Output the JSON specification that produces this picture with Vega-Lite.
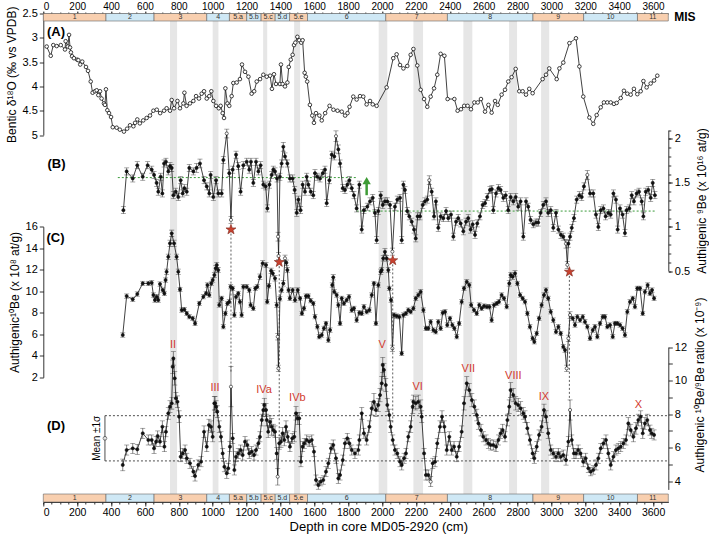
{
"$schema": "https://vega.github.io/schema/vega-lite/v6.json",
"width": 625, "height": 488.5,
"autosize": {"type": "none"},
"padding": {"left": 43.3, "top": 13.5, "right": 40.7, "bottom": 35},
"background": "white",
"config": {"font": "Liberation Sans", "view": {"stroke": null},
  "axis": {"grid": false, "domainColor": "#000", "tickColor": "#000", "labelColor": "#000", "titleColor": "#000", "labelFontSize": 11, "titleFontSize": 12, "titleFontWeight": "normal", "tickSize": 4, "domainWidth": 0.8, "tickWidth": 0.8, "labelPadding": 2}},
"datasets": {
"bands": [{"s":748,"e":790},{"s":1000,"e":1034},{"s":1298,"e":1322},{"s":1481,"e":1516},{"s":1980,"e":2031},{"s":2185,"e":2242},{"s":2480,"e":2533},{"s":2750,"e":2797},{"s":2939,"e":2987}],
"mis": [{"n":"1","s":0,"e":370,"m":185,"k":"i"},{"n":"2","s":370,"e":654,"m":512,"k":"g"},{"n":"3","s":654,"e":965,"m":810,"k":"i"},{"n":"4","s":965,"e":1099,"m":1032,"k":"g"},{"n":"5.a","s":1099,"e":1201,"m":1150,"k":"i"},{"n":"5.b","s":1201,"e":1286,"m":1243,"k":"g"},{"n":"5.c","s":1286,"e":1369,"m":1327,"k":"i"},{"n":"5.d","s":1369,"e":1454,"m":1411,"k":"g"},{"n":"5.e","s":1454,"e":1560,"m":1507,"k":"i"},{"n":"6","s":1560,"e":2022,"m":1791,"k":"g"},{"n":"7","s":2022,"e":2386,"m":2204,"k":"i"},{"n":"8","s":2386,"e":2891,"m":2638,"k":"g"},{"n":"9","s":2891,"e":3190,"m":3040,"k":"i"},{"n":"10","s":3190,"e":3508,"m":3349,"k":"g"},{"n":"11","s":3508,"e":3690,"m":3599,"k":"i"}],
"A": [{"d":20,"v":3.18},{"d":44,"v":3.37},{"d":59,"v":3.15},{"d":79,"v":3.17},{"d":103,"v":3.15},{"d":128,"v":3.24},{"d":132,"v":3.07},{"d":145,"v":3.18},{"d":152,"v":2.94},{"d":158,"v":3.2},{"d":163,"v":3.3},{"d":170,"v":3.38},{"d":181,"v":3.42},{"d":200,"v":3.45},{"d":207,"v":3.46},{"d":218,"v":3.55},{"d":230,"v":3.49},{"d":252,"v":3.6},{"d":264,"v":3.68},{"d":280,"v":3.9},{"d":291,"v":4.13},{"d":305,"v":4.1},{"d":315,"v":4.08},{"d":325,"v":4.18},{"d":335,"v":4.1},{"d":344,"v":4.25},{"d":358,"v":4.35},{"d":364,"v":4.38},{"d":370,"v":4.06},{"d":378,"v":4.49},{"d":388,"v":4.55},{"d":400,"v":4.63},{"d":410,"v":4.84},{"d":433,"v":4.85},{"d":452,"v":4.89},{"d":476,"v":4.93},{"d":495,"v":4.87},{"d":512,"v":4.8},{"d":532,"v":4.82},{"d":542,"v":4.75},{"d":555,"v":4.68},{"d":570,"v":4.76},{"d":590,"v":4.7},{"d":610,"v":4.65},{"d":630,"v":4.6},{"d":650,"v":4.5},{"d":670,"v":4.48},{"d":690,"v":4.55},{"d":713,"v":4.5},{"d":728,"v":4.45},{"d":748,"v":4.5},{"d":758,"v":4.28},{"d":772,"v":4.45},{"d":792,"v":4.3},{"d":807,"v":4.45},{"d":827,"v":4.35},{"d":833,"v":4.13},{"d":846,"v":4.4},{"d":866,"v":4.35},{"d":886,"v":4.3},{"d":902,"v":4.2},{"d":919,"v":4.25},{"d":935,"v":4.15},{"d":949,"v":4.1},{"d":965,"v":4.25},{"d":980,"v":4.2},{"d":992,"v":4.1},{"d":1004,"v":4.3},{"d":1020,"v":4.4},{"d":1036,"v":4.45},{"d":1047,"v":4.4},{"d":1059,"v":4.55},{"d":1067,"v":4.65},{"d":1075,"v":4.04},{"d":1087,"v":4.35},{"d":1098,"v":4.4},{"d":1112,"v":4.2},{"d":1122,"v":3.93},{"d":1142,"v":3.92},{"d":1161,"v":3.85},{"d":1173,"v":3.55},{"d":1191,"v":3.7},{"d":1211,"v":3.8},{"d":1230,"v":4.15},{"d":1245,"v":4.1},{"d":1260,"v":3.9},{"d":1280,"v":3.85},{"d":1299,"v":3.76},{"d":1319,"v":3.8},{"d":1339,"v":3.78},{"d":1350,"v":4.05},{"d":1362,"v":3.75},{"d":1374,"v":3.95},{"d":1397,"v":3.95},{"d":1403,"v":3.55},{"d":1413,"v":3.95},{"d":1427,"v":4.0},{"d":1441,"v":3.92},{"d":1449,"v":3.6},{"d":1461,"v":3.45},{"d":1472,"v":3.35},{"d":1480,"v":3.15},{"d":1488,"v":3.1},{"d":1500,"v":2.98},{"d":1511,"v":3.05},{"d":1523,"v":3.1},{"d":1531,"v":3.05},{"d":1543,"v":3.72},{"d":1550,"v":3.8},{"d":1558,"v":3.9},{"d":1574,"v":4.38},{"d":1588,"v":4.6},{"d":1598,"v":4.75},{"d":1610,"v":4.55},{"d":1630,"v":4.6},{"d":1644,"v":4.7},{"d":1664,"v":4.55},{"d":1690,"v":4.4},{"d":1713,"v":4.48},{"d":1737,"v":4.5},{"d":1762,"v":4.52},{"d":1782,"v":4.6},{"d":1796,"v":4.55},{"d":1808,"v":4.42},{"d":1830,"v":4.21},{"d":1850,"v":4.27},{"d":1870,"v":4.2},{"d":1889,"v":4.21},{"d":1909,"v":4.37},{"d":1929,"v":4.3},{"d":1945,"v":4.37},{"d":1968,"v":4.4},{"d":2027,"v":4.02},{"d":2066,"v":3.42},{"d":2086,"v":3.34},{"d":2106,"v":3.56},{"d":2126,"v":3.63},{"d":2149,"v":3.58},{"d":2169,"v":3.35},{"d":2185,"v":3.23},{"d":2208,"v":3.57},{"d":2228,"v":4.07},{"d":2248,"v":4.26},{"d":2267,"v":4.42},{"d":2287,"v":4.21},{"d":2307,"v":4.04},{"d":2326,"v":3.76},{"d":2346,"v":3.33},{"d":2368,"v":3.37},{"d":2387,"v":4.26},{"d":2427,"v":4.26},{"d":2446,"v":4.5},{"d":2466,"v":4.47},{"d":2485,"v":4.4},{"d":2505,"v":4.4},{"d":2525,"v":4.47},{"d":2545,"v":4.33},{"d":2565,"v":4.33},{"d":2584,"v":4.26},{"d":2608,"v":4.52},{"d":2628,"v":4.38},{"d":2647,"v":4.54},{"d":2667,"v":4.3},{"d":2683,"v":4.38},{"d":2706,"v":4.17},{"d":2726,"v":4.07},{"d":2745,"v":3.9},{"d":2765,"v":3.81},{"d":2789,"v":3.64},{"d":2810,"v":4.1},{"d":2830,"v":4.1},{"d":2850,"v":4.17},{"d":2869,"v":4.05},{"d":2889,"v":4.14},{"d":2948,"v":3.85},{"d":2968,"v":3.76},{"d":2987,"v":3.63},{"d":3031,"v":3.85},{"d":3047,"v":3.63},{"d":3070,"v":3.51},{"d":3106,"v":3.11},{"d":3145,"v":3.01},{"d":3165,"v":3.59},{"d":3188,"v":4.21},{"d":3224,"v":4.64},{"d":3247,"v":4.77},{"d":3267,"v":4.59},{"d":3291,"v":4.43},{"d":3310,"v":4.33},{"d":3330,"v":4.33},{"d":3350,"v":4.33},{"d":3369,"v":4.36},{"d":3385,"v":4.34},{"d":3409,"v":4.24},{"d":3428,"v":4.09},{"d":3448,"v":4.15},{"d":3468,"v":4.17},{"d":3487,"v":4.05},{"d":3507,"v":4.16},{"d":3527,"v":4.1},{"d":3543,"v":3.89},{"d":3562,"v":4.02},{"d":3586,"v":3.94},{"d":3606,"v":3.88},{"d":3625,"v":3.78}],
"B": [{"d":473,"v":1.19,"e":0.04},{"d":492,"v":1.63,"e":0.04},{"d":528,"v":1.55,"e":0.04},{"d":555,"v":1.7,"e":0.04},{"d":587,"v":1.57,"e":0.04},{"d":616,"v":1.7,"e":0.04},{"d":640,"v":1.65,"e":0.04},{"d":654,"v":1.59,"e":0.04},{"d":669,"v":1.5,"e":0.04},{"d":679,"v":1.4,"e":0.04},{"d":693,"v":1.57,"e":0.04},{"d":703,"v":1.38,"e":0.04},{"d":713,"v":1.72,"e":0.04},{"d":724,"v":1.74,"e":0.04},{"d":738,"v":1.63,"e":0.04},{"d":748,"v":1.69,"e":0.04},{"d":758,"v":1.67,"e":0.04},{"d":768,"v":1.36,"e":0.04},{"d":782,"v":1.4,"e":0.04},{"d":797,"v":1.34,"e":0.04},{"d":811,"v":1.53,"e":0.04},{"d":823,"v":1.38,"e":0.04},{"d":833,"v":1.44,"e":0.04},{"d":847,"v":1.4,"e":0.04},{"d":862,"v":1.67,"e":0.04},{"d":886,"v":1.63,"e":0.04},{"d":905,"v":1.67,"e":0.05},{"d":925,"v":1.72,"e":0.05},{"d":949,"v":1.53,"e":0.04},{"d":965,"v":1.46,"e":0.04},{"d":980,"v":1.38,"e":0.04},{"d":988,"v":1.59,"e":0.04},{"d":1004,"v":1.34,"e":0.04},{"d":1020,"v":1.53,"e":0.04},{"d":1033,"v":1.38,"e":0.04},{"d":1053,"v":1.38,"e":0.04},{"d":1063,"v":1.76,"e":0.04},{"d":1083,"v":2.06,"e":0.05,"o":1},{"d":1098,"v":1.61,"e":0.04},{"d":1108,"v":1.08,"e":0.04,"o":1},{"d":1118,"v":1.65,"e":0.04},{"d":1138,"v":1.82,"e":0.04},{"d":1151,"v":1.69,"e":0.04},{"d":1165,"v":1.4,"e":0.04},{"d":1181,"v":1.7,"e":0.04},{"d":1201,"v":1.74,"e":0.04},{"d":1216,"v":1.65,"e":0.04},{"d":1226,"v":1.74,"e":0.04},{"d":1240,"v":1.5,"e":0.04},{"d":1256,"v":1.74,"e":0.04},{"d":1270,"v":1.63,"e":0.04},{"d":1283,"v":1.7,"e":0.04},{"d":1299,"v":1.48,"e":0.04},{"d":1313,"v":1.46,"e":0.04},{"d":1323,"v":1.21,"e":0.04},{"d":1335,"v":1.48,"e":0.04},{"d":1348,"v":1.59,"e":0.04},{"d":1358,"v":1.65,"e":0.04},{"d":1368,"v":1.63,"e":0.04},{"d":1380,"v":1.55,"e":0.04},{"d":1386,"v":0.89,"e":0.05,"o":1},{"d":1389,"v":0.67,"e":0.04,"o":1},{"d":1397,"v":1.57,"e":0.04},{"d":1407,"v":1.72,"e":0.04},{"d":1417,"v":1.91,"e":0.05},{"d":1427,"v":1.8,"e":0.04},{"d":1441,"v":1.72,"e":0.04},{"d":1456,"v":1.55,"e":0.04},{"d":1472,"v":1.55,"e":0.04},{"d":1484,"v":1.42,"e":0.04},{"d":1496,"v":1.16,"e":0.04},{"d":1506,"v":1.31,"e":0.04},{"d":1519,"v":1.19,"e":0.04},{"d":1531,"v":1.48,"e":0.04},{"d":1545,"v":1.4,"e":0.04},{"d":1555,"v":1.57,"e":0.04},{"d":1565,"v":1.48,"e":0.04},{"d":1579,"v":1.4,"e":0.04},{"d":1594,"v":1.36,"e":0.04},{"d":1604,"v":1.61,"e":0.04},{"d":1618,"v":1.57,"e":0.04},{"d":1634,"v":1.55,"e":0.04},{"d":1650,"v":1.61,"e":0.04},{"d":1663,"v":1.65,"e":0.04},{"d":1673,"v":1.27,"e":0.04},{"d":1689,"v":1.53,"e":0.04},{"d":1703,"v":1.82,"e":0.04},{"d":1718,"v":1.8,"e":0.04},{"d":1728,"v":2.03,"e":0.06,"o":1},{"d":1742,"v":1.88,"e":0.05},{"d":1752,"v":1.72,"e":0.04},{"d":1768,"v":1.44,"e":0.04},{"d":1781,"v":1.42,"e":0.04},{"d":1795,"v":1.48,"e":0.04},{"d":1807,"v":1.53,"e":0.04},{"d":1821,"v":1.44,"e":0.04},{"d":1834,"v":1.36,"e":0.04},{"d":1850,"v":1.21,"e":0.04},{"d":1866,"v":1.48,"e":0.04},{"d":1880,"v":0.97,"e":0.04},{"d":1893,"v":1.19,"e":0.04},{"d":1913,"v":1.23,"e":0.04},{"d":1929,"v":1.29,"e":0.04},{"d":1945,"v":1.33,"e":0.04},{"d":1958,"v":1.16,"e":0.04},{"d":1968,"v":0.85,"e":0.04},{"d":1978,"v":1.18,"e":0.04},{"d":1992,"v":1.36,"e":0.04},{"d":2004,"v":1.25,"e":0.04},{"d":2017,"v":1.29,"e":0.04},{"d":2031,"v":1.29,"e":0.04},{"d":2047,"v":1.25,"e":0.04},{"d":2061,"v":0.72,"e":0.04,"o":1},{"d":2076,"v":1.23,"e":0.04},{"d":2090,"v":1.31,"e":0.04},{"d":2106,"v":1.33,"e":0.04},{"d":2116,"v":0.85,"e":0.04},{"d":2126,"v":1.48,"e":0.04},{"d":2135,"v":1.42,"e":0.04},{"d":2149,"v":1.18,"e":0.04},{"d":2161,"v":1.12,"e":0.04},{"d":2175,"v":1.06,"e":0.04},{"d":2189,"v":0.97,"e":0.04},{"d":2199,"v":0.87,"e":0.04},{"d":2210,"v":1.12,"e":0.04},{"d":2224,"v":1.12,"e":0.04},{"d":2240,"v":1.25,"e":0.04},{"d":2253,"v":1.29,"e":0.04},{"d":2267,"v":1.31,"e":0.04},{"d":2279,"v":1.53,"e":0.05,"o":1},{"d":2293,"v":1.4,"e":0.04},{"d":2307,"v":1.12,"e":0.04},{"d":2318,"v":1.29,"e":0.04},{"d":2332,"v":0.99,"e":0.04},{"d":2346,"v":1.12,"e":0.04},{"d":2362,"v":1.1,"e":0.04},{"d":2378,"v":1.18,"e":0.04},{"d":2391,"v":1.1,"e":0.04},{"d":2407,"v":1.14,"e":0.04},{"d":2421,"v":0.89,"e":0.04},{"d":2437,"v":1.06,"e":0.04},{"d":2450,"v":1.1,"e":0.04},{"d":2464,"v":1.04,"e":0.04},{"d":2480,"v":0.95,"e":0.04},{"d":2496,"v":1.06,"e":0.04},{"d":2509,"v":1.1,"e":0.04},{"d":2523,"v":0.97,"e":0.04},{"d":2535,"v":1.03,"e":0.04},{"d":2549,"v":0.91,"e":0.04},{"d":2562,"v":1.04,"e":0.04},{"d":2578,"v":1.12,"e":0.04},{"d":2594,"v":1.25,"e":0.04},{"d":2608,"v":1.27,"e":0.04},{"d":2621,"v":1.34,"e":0.04},{"d":2637,"v":1.42,"e":0.04},{"d":2648,"v":1.43,"e":0.04},{"d":2657,"v":1.19,"e":0.04},{"d":2673,"v":1.38,"e":0.04},{"d":2687,"v":1.44,"e":0.04},{"d":2700,"v":1.42,"e":0.04},{"d":2716,"v":1.33,"e":0.04},{"d":2730,"v":1.36,"e":0.04},{"d":2745,"v":1.19,"e":0.04},{"d":2759,"v":1.34,"e":0.04},{"d":2775,"v":1.29,"e":0.04},{"d":2789,"v":1.34,"e":0.04},{"d":2804,"v":1.23,"e":0.04},{"d":2818,"v":1.29,"e":0.04},{"d":2834,"v":0.89,"e":0.04},{"d":2850,"v":1.29,"e":0.04},{"d":2863,"v":1.23,"e":0.04},{"d":2877,"v":1.08,"e":0.04},{"d":2893,"v":1.03,"e":0.04},{"d":2909,"v":1.05,"e":0.04},{"d":2922,"v":1.05,"e":0.04},{"d":2936,"v":1.16,"e":0.04},{"d":2952,"v":1.25,"e":0.04},{"d":2968,"v":1.29,"e":0.04},{"d":2981,"v":1.16,"e":0.04},{"d":2996,"v":1.19,"e":0.04},{"d":3011,"v":0.99,"e":0.04},{"d":3027,"v":1.16,"e":0.04},{"d":3041,"v":0.97,"e":0.04},{"d":3056,"v":0.91,"e":0.04},{"d":3070,"v":0.89,"e":0.04},{"d":3086,"v":0.81,"e":0.05,"o":1},{"d":3094,"v":0.57,"e":0.04,"o":1},{"d":3100,"v":0.81,"e":0.04},{"d":3110,"v":0.89,"e":0.04},{"d":3120,"v":0.99,"e":0.04},{"d":3133,"v":1.1,"e":0.04},{"d":3149,"v":1.31,"e":0.04},{"d":3165,"v":1.36,"e":0.04},{"d":3179,"v":1.34,"e":0.04},{"d":3192,"v":1.46,"e":0.04},{"d":3212,"v":1.59,"e":0.05,"o":1},{"d":3228,"v":1.38,"e":0.04},{"d":3247,"v":1.38,"e":0.04},{"d":3263,"v":1.14,"e":0.04},{"d":3277,"v":1.0,"e":0.04},{"d":3291,"v":1.19,"e":0.04},{"d":3307,"v":1.21,"e":0.04},{"d":3320,"v":1.12,"e":0.04},{"d":3336,"v":1.16,"e":0.04},{"d":3350,"v":1.14,"e":0.04},{"d":3366,"v":1.38,"e":0.04},{"d":3381,"v":1.31,"e":0.04},{"d":3391,"v":0.97,"e":0.04},{"d":3405,"v":1.21,"e":0.04},{"d":3420,"v":1.14,"e":0.04},{"d":3434,"v":0.93,"e":0.04},{"d":3444,"v":1.19,"e":0.04},{"d":3460,"v":1.21,"e":0.04},{"d":3474,"v":1.36,"e":0.04},{"d":3487,"v":1.29,"e":0.04},{"d":3503,"v":1.38,"e":0.04},{"d":3517,"v":1.4,"e":0.04},{"d":3533,"v":1.29,"e":0.04},{"d":3543,"v":1.12,"e":0.04},{"d":3557,"v":1.4,"e":0.04},{"d":3572,"v":1.42,"e":0.04},{"d":3586,"v":1.33,"e":0.04},{"d":3598,"v":1.5,"e":0.04},{"d":3611,"v":1.36,"e":0.04}],
"C": [{"d":469,"v":5.93,"e":0.2},{"d":492,"v":9.55,"e":0.2},{"d":528,"v":9.25,"e":0.2},{"d":555,"v":9.74,"e":0.2},{"d":587,"v":10.73,"e":0.2},{"d":620,"v":10.73,"e":0.2},{"d":640,"v":10.79,"e":0.2},{"d":650,"v":9.65,"e":0.2},{"d":659,"v":9.18,"e":0.2},{"d":669,"v":9.49,"e":0.2},{"d":679,"v":9.18,"e":0.2},{"d":689,"v":10.67,"e":0.2},{"d":705,"v":10.11,"e":0.2},{"d":715,"v":9.8,"e":0.2},{"d":722,"v":11.04,"e":0.2},{"d":728,"v":11.81,"e":0.25},{"d":738,"v":13.2,"e":0.25},{"d":748,"v":14.45,"e":0.3},{"d":758,"v":15.38,"e":0.3},{"d":772,"v":14.45,"e":0.3},{"d":787,"v":13.2,"e":0.25},{"d":797,"v":11.81,"e":0.25},{"d":807,"v":10.17,"e":0.2},{"d":817,"v":8.25,"e":0.2},{"d":833,"v":8.3,"e":0.2},{"d":847,"v":7.94,"e":0.2},{"d":862,"v":7.63,"e":0.2},{"d":882,"v":7.48,"e":0.2},{"d":896,"v":7.01,"e":0.2},{"d":921,"v":8.87,"e":0.2},{"d":945,"v":9.49,"e":0.2},{"d":961,"v":9.8,"e":0.2},{"d":969,"v":10.58,"e":0.2},{"d":980,"v":9.65,"e":0.2},{"d":992,"v":10.73,"e":0.2},{"d":1000,"v":11.04,"e":0.2},{"d":1010,"v":11.51,"e":0.25},{"d":1018,"v":12.13,"e":0.25},{"d":1024,"v":12.44,"e":0.25},{"d":1033,"v":11.97,"e":0.25},{"d":1039,"v":8.72,"e":0.2},{"d":1053,"v":9.34,"e":0.2},{"d":1063,"v":6.7,"e":0.2},{"d":1075,"v":7.94,"e":0.2},{"d":1087,"v":8.87,"e":0.2},{"d":1098,"v":9.02,"e":0.2},{"d":1106,"v":10.42,"e":0.2},{"d":1118,"v":10.27,"e":0.2},{"d":1128,"v":7.79,"e":0.2},{"d":1138,"v":9.49,"e":0.2},{"d":1151,"v":9.8,"e":0.2},{"d":1161,"v":9.02,"e":0.2},{"d":1171,"v":7.79,"e":0.2},{"d":1181,"v":10.42,"e":0.2},{"d":1201,"v":10.42,"e":0.2},{"d":1216,"v":10.11,"e":0.2},{"d":1224,"v":8.72,"e":0.2},{"d":1240,"v":8.41,"e":0.2},{"d":1252,"v":10.27,"e":0.2},{"d":1263,"v":10.42,"e":0.2},{"d":1279,"v":11.35,"e":0.25},{"d":1295,"v":12.6,"e":0.25},{"d":1315,"v":12.44,"e":0.25},{"d":1322,"v":9.02,"e":0.2},{"d":1332,"v":10.5,"e":0.2},{"d":1345,"v":11.9,"e":0.25},{"d":1355,"v":11.66,"e":0.25},{"d":1368,"v":11.2,"e":0.25},{"d":1378,"v":8.72,"e":0.25},{"d":1384,"v":5.77,"e":0.3,"o":1},{"d":1388,"v":2.83,"e":0.3,"o":1},{"d":1397,"v":9.3,"e":0.2},{"d":1407,"v":10.11,"e":0.2},{"d":1417,"v":10.73,"e":0.25},{"d":1427,"v":13.06,"e":0.3,"o":1},{"d":1435,"v":12.65,"e":0.25},{"d":1441,"v":11.97,"e":0.25},{"d":1448,"v":10.11,"e":0.2},{"d":1456,"v":9.34,"e":0.2},{"d":1472,"v":10.11,"e":0.2},{"d":1486,"v":9.18,"e":0.2},{"d":1502,"v":10.11,"e":0.2},{"d":1516,"v":9.34,"e":0.2},{"d":1527,"v":7.94,"e":0.2},{"d":1539,"v":8.41,"e":0.2},{"d":1551,"v":9.55,"e":0.2},{"d":1565,"v":9.55,"e":0.2},{"d":1579,"v":9.12,"e":0.2},{"d":1594,"v":8.87,"e":0.2},{"d":1604,"v":7.63,"e":0.2},{"d":1618,"v":6.7,"e":0.2},{"d":1629,"v":5.77,"e":0.2},{"d":1644,"v":5.93,"e":0.2},{"d":1657,"v":6.55,"e":0.2},{"d":1669,"v":7.01,"e":0.2},{"d":1683,"v":5.46,"e":0.2},{"d":1693,"v":6.39,"e":0.2},{"d":1706,"v":10.58,"e":0.2},{"d":1712,"v":11.3,"e":0.25},{"d":1718,"v":9.95,"e":0.2},{"d":1732,"v":9.65,"e":0.2},{"d":1742,"v":8.72,"e":0.2},{"d":1752,"v":7.01,"e":0.2},{"d":1762,"v":9.34,"e":0.2},{"d":1775,"v":8.87,"e":0.2},{"d":1791,"v":9.18,"e":0.2},{"d":1805,"v":9.49,"e":0.2},{"d":1821,"v":8.25,"e":0.2},{"d":1834,"v":8.41,"e":0.2},{"d":1850,"v":7.32,"e":0.2},{"d":1866,"v":8.0,"e":0.2},{"d":1880,"v":7.94,"e":0.2},{"d":1893,"v":8.56,"e":0.2},{"d":1909,"v":8.09,"e":0.2},{"d":1925,"v":8.25,"e":0.2},{"d":1939,"v":9.65,"e":0.2},{"d":1952,"v":10.73,"e":0.2},{"d":1964,"v":7.01,"e":0.2},{"d":1978,"v":10.58,"e":0.2},{"d":1992,"v":11.81,"e":0.25},{"d":1998,"v":11.97,"e":0.25},{"d":2007,"v":13.06,"e":0.25},{"d":2017,"v":13.67,"e":0.3},{"d":2027,"v":13.06,"e":0.25},{"d":2037,"v":11.97,"e":0.25},{"d":2043,"v":10.27,"e":0.2},{"d":2053,"v":9.18,"e":0.2},{"d":2061,"v":4.69,"e":0.3,"o":1},{"d":2071,"v":7.79,"e":0.2},{"d":2086,"v":7.69,"e":0.2},{"d":2102,"v":7.63,"e":0.2},{"d":2116,"v":4.22,"e":0.2},{"d":2126,"v":7.79,"e":0.2},{"d":2141,"v":7.94,"e":0.2},{"d":2155,"v":8.25,"e":0.2},{"d":2169,"v":8.09,"e":0.2},{"d":2185,"v":8.41,"e":0.2},{"d":2199,"v":9.34,"e":0.2},{"d":2214,"v":9.65,"e":0.2},{"d":2228,"v":9.95,"e":0.2},{"d":2244,"v":8.25,"e":0.2},{"d":2259,"v":6.55,"e":0.2},{"d":2273,"v":6.55,"e":0.2},{"d":2287,"v":7.16,"e":0.2},{"d":2303,"v":6.39,"e":0.2},{"d":2317,"v":6.23,"e":0.2},{"d":2332,"v":7.16,"e":0.2},{"d":2346,"v":6.55,"e":0.2},{"d":2358,"v":8.0,"e":0.2},{"d":2372,"v":8.09,"e":0.2},{"d":2385,"v":6.86,"e":0.2},{"d":2401,"v":7.48,"e":0.2},{"d":2415,"v":6.86,"e":0.2},{"d":2427,"v":6.55,"e":0.2},{"d":2441,"v":5.77,"e":0.2},{"d":2455,"v":7.01,"e":0.2},{"d":2470,"v":9.02,"e":0.2},{"d":2484,"v":10.27,"e":0.2},{"d":2500,"v":10.88,"e":0.2},{"d":2515,"v":10.58,"e":0.2},{"d":2526,"v":8.72,"e":0.2},{"d":2543,"v":8.25,"e":0.2},{"d":2559,"v":7.94,"e":0.2},{"d":2574,"v":8.72,"e":0.2},{"d":2588,"v":8.41,"e":0.2},{"d":2602,"v":8.62,"e":0.2},{"d":2619,"v":8.56,"e":0.2},{"d":2634,"v":8.56,"e":0.2},{"d":2647,"v":7.32,"e":0.2},{"d":2661,"v":8.72,"e":0.2},{"d":2677,"v":8.87,"e":0.2},{"d":2690,"v":9.02,"e":0.2},{"d":2706,"v":9.65,"e":0.2},{"d":2720,"v":9.34,"e":0.2},{"d":2736,"v":8.56,"e":0.2},{"d":2751,"v":10.73,"e":0.25},{"d":2759,"v":11.51,"e":0.25},{"d":2771,"v":11.35,"e":0.25},{"d":2785,"v":11.66,"e":0.25},{"d":2799,"v":10.73,"e":0.2},{"d":2815,"v":9.65,"e":0.2},{"d":2830,"v":9.34,"e":0.2},{"d":2844,"v":9.02,"e":0.2},{"d":2858,"v":7.94,"e":0.2},{"d":2873,"v":6.7,"e":0.2},{"d":2889,"v":5.62,"e":0.2},{"d":2899,"v":5.3,"e":0.2},{"d":2913,"v":6.08,"e":0.2},{"d":2927,"v":7.48,"e":0.2},{"d":2942,"v":8.72,"e":0.2},{"d":2956,"v":9.65,"e":0.2},{"d":2968,"v":10.11,"e":0.2},{"d":2981,"v":9.34,"e":0.2},{"d":2996,"v":8.09,"e":0.2},{"d":3011,"v":7.32,"e":0.2},{"d":3027,"v":6.23,"e":0.2},{"d":3041,"v":6.7,"e":0.2},{"d":3055,"v":6.08,"e":0.2},{"d":3070,"v":4.84,"e":0.2},{"d":3080,"v":4.53,"e":0.2},{"d":3090,"v":2.83,"e":0.3,"o":1},{"d":3100,"v":5.62,"e":0.3,"o":1},{"d":3110,"v":7.79,"e":0.3,"o":1},{"d":3126,"v":7.48,"e":0.2},{"d":3139,"v":6.86,"e":0.2},{"d":3153,"v":7.63,"e":0.2},{"d":3169,"v":7.32,"e":0.2},{"d":3185,"v":7.63,"e":0.2},{"d":3198,"v":7.16,"e":0.2},{"d":3212,"v":6.7,"e":0.2},{"d":3228,"v":5.62,"e":0.2},{"d":3244,"v":6.39,"e":0.2},{"d":3257,"v":6.7,"e":0.2},{"d":3271,"v":5.77,"e":0.2},{"d":3287,"v":7.01,"e":0.2},{"d":3303,"v":7.63,"e":0.2},{"d":3316,"v":7.63,"e":0.2},{"d":3330,"v":6.7,"e":0.2},{"d":3346,"v":6.86,"e":0.2},{"d":3362,"v":5.77,"e":0.2},{"d":3375,"v":7.01,"e":0.2},{"d":3389,"v":7.01,"e":0.2},{"d":3405,"v":6.86,"e":0.2},{"d":3420,"v":6.55,"e":0.2},{"d":3434,"v":5.93,"e":0.2},{"d":3448,"v":8.09,"e":0.2},{"d":3464,"v":9.02,"e":0.2},{"d":3480,"v":9.34,"e":0.2},{"d":3493,"v":8.56,"e":0.2},{"d":3507,"v":10.27,"e":0.2},{"d":3523,"v":10.27,"e":0.2},{"d":3539,"v":7.94,"e":0.2},{"d":3552,"v":9.95,"e":0.2},{"d":3568,"v":10.58,"e":0.2},{"d":3582,"v":9.8,"e":0.2},{"d":3594,"v":10.11,"e":0.2},{"d":3606,"v":9.34,"e":0.2}],
"D": [{"d":469,"v":4.96,"e":0.35},{"d":492,"v":5.85,"e":0.3},{"d":528,"v":5.95,"e":0.3},{"d":555,"v":5.89,"e":0.3},{"d":587,"v":6.85,"e":0.3},{"d":620,"v":6.45,"e":0.3},{"d":640,"v":6.45,"e":0.3},{"d":654,"v":5.95,"e":0.3},{"d":666,"v":6.35,"e":0.3},{"d":675,"v":6.69,"e":0.3},{"d":689,"v":6.35,"e":0.3},{"d":703,"v":7.24,"e":0.35},{"d":715,"v":6.05,"e":0.3},{"d":724,"v":6.94,"e":0.3},{"d":738,"v":8.04,"e":0.35},{"d":748,"v":8.44,"e":0.35},{"d":758,"v":8.64,"e":0.35},{"d":764,"v":10.82,"e":0.4},{"d":768,"v":11.32,"e":0.4},{"d":776,"v":10.13,"e":0.4},{"d":783,"v":8.94,"e":0.35},{"d":792,"v":8.73,"e":0.35},{"d":802,"v":7.84,"e":0.35},{"d":811,"v":5.45,"e":0.3},{"d":823,"v":5.65,"e":0.3},{"d":837,"v":5.85,"e":0.3},{"d":847,"v":5.36,"e":0.3},{"d":866,"v":5.06,"e":0.3},{"d":886,"v":4.56,"e":0.3},{"d":896,"v":4.3,"e":0.3},{"d":915,"v":4.96,"e":0.3},{"d":931,"v":5.15,"e":0.3},{"d":949,"v":6.94,"e":0.35},{"d":965,"v":6.05,"e":0.3},{"d":978,"v":7.34,"e":0.35},{"d":990,"v":7.24,"e":0.35},{"d":1000,"v":6.64,"e":0.3},{"d":1010,"v":8.64,"e":0.4},{"d":1014,"v":8.64,"e":0.4},{"d":1020,"v":8.44,"e":0.35},{"d":1027,"v":8.14,"e":0.35},{"d":1039,"v":7.24,"e":0.35},{"d":1049,"v":6.64,"e":0.3},{"d":1059,"v":5.65,"e":0.3},{"d":1069,"v":4.85,"e":0.3},{"d":1083,"v":4.46,"e":0.3},{"d":1092,"v":4.76,"e":0.3},{"d":1102,"v":6.05,"e":0.3},{"d":1108,"v":9.63,"e":1.2,"o":1},{"d":1118,"v":6.55,"e":0.3},{"d":1128,"v":4.66,"e":0.3},{"d":1138,"v":5.45,"e":0.3},{"d":1151,"v":5.65,"e":0.3},{"d":1165,"v":5.85,"e":0.3},{"d":1177,"v":5.55,"e":0.3},{"d":1191,"v":6.35,"e":0.3},{"d":1205,"v":6.15,"e":0.3},{"d":1216,"v":5.65,"e":0.3},{"d":1230,"v":5.75,"e":0.3},{"d":1244,"v":5.55,"e":0.3},{"d":1256,"v":5.85,"e":0.3},{"d":1270,"v":6.25,"e":0.3},{"d":1279,"v":6.64,"e":0.3},{"d":1290,"v":7.64,"e":0.35},{"d":1299,"v":8.24,"e":0.4},{"d":1305,"v":8.54,"e":0.4},{"d":1315,"v":8.24,"e":0.4},{"d":1319,"v":7.64,"e":0.35},{"d":1328,"v":6.94,"e":0.35},{"d":1338,"v":7.54,"e":0.35},{"d":1348,"v":7.24,"e":0.5},{"d":1358,"v":7.04,"e":0.35},{"d":1368,"v":6.94,"e":0.35},{"d":1378,"v":5.65,"e":0.35},{"d":1384,"v":4.26,"e":0.5,"o":1},{"d":1393,"v":6.25,"e":0.35},{"d":1403,"v":6.35,"e":0.35},{"d":1413,"v":6.85,"e":0.35},{"d":1423,"v":6.45,"e":0.35},{"d":1433,"v":7.24,"e":0.35},{"d":1443,"v":6.64,"e":0.35},{"d":1456,"v":6.05,"e":0.3},{"d":1470,"v":6.55,"e":0.3},{"d":1482,"v":6.64,"e":0.3},{"d":1492,"v":8.04,"e":0.4},{"d":1502,"v":7.74,"e":0.35},{"d":1511,"v":7.74,"e":0.35},{"d":1521,"v":5.15,"e":0.3},{"d":1531,"v":6.05,"e":0.3},{"d":1541,"v":6.25,"e":0.3},{"d":1555,"v":6.45,"e":0.3},{"d":1570,"v":6.35,"e":0.3},{"d":1585,"v":6.45,"e":0.3},{"d":1598,"v":5.75,"e":0.3},{"d":1610,"v":4.06,"e":0.3},{"d":1624,"v":3.76,"e":0.25},{"d":1638,"v":3.96,"e":0.25},{"d":1653,"v":4.06,"e":0.25},{"d":1669,"v":4.56,"e":0.3},{"d":1683,"v":5.06,"e":0.3},{"d":1699,"v":5.95,"e":0.3},{"d":1712,"v":6.15,"e":0.3},{"d":1728,"v":5.36,"e":0.3},{"d":1742,"v":4.16,"e":0.3},{"d":1752,"v":4.36,"e":0.3},{"d":1768,"v":5.25,"e":0.3},{"d":1781,"v":6.25,"e":0.3},{"d":1795,"v":6.55,"e":0.3},{"d":1807,"v":6.25,"e":0.3},{"d":1821,"v":5.85,"e":0.3},{"d":1840,"v":5.65,"e":0.3},{"d":1860,"v":5.85,"e":0.3},{"d":1866,"v":6.45,"e":0.3},{"d":1880,"v":8.04,"e":0.35},{"d":1893,"v":6.85,"e":0.3},{"d":1909,"v":6.45,"e":0.3},{"d":1925,"v":7.24,"e":0.35},{"d":1939,"v":8.34,"e":0.4},{"d":1952,"v":8.73,"e":0.5},{"d":1964,"v":8.24,"e":0.4},{"d":1978,"v":8.54,"e":0.4},{"d":1988,"v":9.13,"e":0.4},{"d":1998,"v":9.83,"e":0.4},{"d":2004,"v":10.93,"e":0.45},{"d":2011,"v":10.63,"e":0.4},{"d":2022,"v":9.73,"e":0.4},{"d":2031,"v":8.54,"e":0.4},{"d":2043,"v":7.94,"e":0.35},{"d":2051,"v":7.24,"e":0.35},{"d":2063,"v":6.45,"e":0.3},{"d":2076,"v":5.85,"e":0.3},{"d":2090,"v":5.65,"e":0.3},{"d":2106,"v":5.15,"e":0.3},{"d":2116,"v":4.96,"e":0.3},{"d":2130,"v":5.36,"e":0.3},{"d":2141,"v":5.65,"e":0.3},{"d":2155,"v":6.64,"e":0.3},{"d":2169,"v":7.24,"e":0.35},{"d":2181,"v":8.44,"e":0.4},{"d":2185,"v":8.73,"e":0.4},{"d":2199,"v":8.64,"e":0.4},{"d":2214,"v":8.73,"e":0.4},{"d":2228,"v":8.44,"e":0.4},{"d":2234,"v":7.84,"e":0.35},{"d":2248,"v":5.65,"e":0.3},{"d":2259,"v":4.36,"e":0.3},{"d":2273,"v":4.36,"e":0.3},{"d":2287,"v":3.96,"e":0.3,"o":1},{"d":2299,"v":5.06,"e":0.3},{"d":2313,"v":5.15,"e":0.3},{"d":2326,"v":6.25,"e":0.3},{"d":2342,"v":7.24,"e":0.35},{"d":2354,"v":7.84,"e":0.35},{"d":2368,"v":7.24,"e":0.35},{"d":2382,"v":5.85,"e":0.3},{"d":2397,"v":6.64,"e":0.3},{"d":2411,"v":5.85,"e":0.3},{"d":2425,"v":6.05,"e":0.3},{"d":2441,"v":5.45,"e":0.3},{"d":2455,"v":6.05,"e":0.3},{"d":2470,"v":6.94,"e":0.35},{"d":2484,"v":8.64,"e":0.4},{"d":2500,"v":9.83,"e":0.4},{"d":2515,"v":9.43,"e":0.4},{"d":2530,"v":8.83,"e":0.4},{"d":2545,"v":8.44,"e":0.4},{"d":2559,"v":7.94,"e":0.35},{"d":2569,"v":7.44,"e":0.35},{"d":2584,"v":7.04,"e":0.35},{"d":2598,"v":6.64,"e":0.3},{"d":2614,"v":6.45,"e":0.3},{"d":2628,"v":6.25,"e":0.3},{"d":2641,"v":6.15,"e":0.3},{"d":2657,"v":6.15,"e":0.3},{"d":2673,"v":6.05,"e":0.3},{"d":2687,"v":6.45,"e":0.3},{"d":2700,"v":6.85,"e":0.3},{"d":2712,"v":7.04,"e":0.35},{"d":2726,"v":6.64,"e":0.3},{"d":2740,"v":7.64,"e":0.35},{"d":2751,"v":8.44,"e":0.4},{"d":2759,"v":9.43,"e":0.45},{"d":2775,"v":9.13,"e":0.4},{"d":2789,"v":8.64,"e":0.4},{"d":2804,"v":8.54,"e":0.4},{"d":2818,"v":8.34,"e":0.4},{"d":2834,"v":8.04,"e":0.35},{"d":2844,"v":7.84,"e":0.35},{"d":2858,"v":7.15,"e":0.35},{"d":2873,"v":6.45,"e":0.3},{"d":2889,"v":5.65,"e":0.3},{"d":2899,"v":5.36,"e":0.3},{"d":2913,"v":6.05,"e":0.3},{"d":2927,"v":6.75,"e":0.3},{"d":2942,"v":7.24,"e":0.35},{"d":2956,"v":8.24,"e":0.35},{"d":2968,"v":7.84,"e":0.35},{"d":2981,"v":6.85,"e":0.3},{"d":2996,"v":5.85,"e":0.3},{"d":3011,"v":5.65,"e":0.3},{"d":3027,"v":5.45,"e":0.3},{"d":3041,"v":5.65,"e":0.3},{"d":3055,"v":5.45,"e":0.3},{"d":3070,"v":5.55,"e":0.3},{"d":3086,"v":5.25,"e":0.3},{"d":3100,"v":6.35,"e":0.3},{"d":3110,"v":8.24,"e":0.6,"o":1},{"d":3120,"v":6.45,"e":0.3},{"d":3133,"v":5.65,"e":0.3},{"d":3145,"v":5.65,"e":0.3},{"d":3158,"v":5.85,"e":0.3},{"d":3172,"v":5.65,"e":0.3},{"d":3188,"v":5.15,"e":0.3},{"d":3202,"v":5.36,"e":0.3},{"d":3218,"v":4.76,"e":0.25},{"d":3232,"v":4.56,"e":0.25},{"d":3247,"v":4.66,"e":0.25},{"d":3263,"v":4.96,"e":0.3},{"d":3277,"v":5.36,"e":0.3},{"d":3291,"v":5.95,"e":0.3},{"d":3307,"v":6.25,"e":0.3},{"d":3322,"v":6.45,"e":0.3},{"d":3336,"v":5.65,"e":0.3},{"d":3350,"v":4.96,"e":0.3},{"d":3366,"v":5.45,"e":0.3},{"d":3381,"v":5.85,"e":0.3},{"d":3395,"v":5.95,"e":0.3},{"d":3409,"v":6.05,"e":0.3},{"d":3425,"v":6.25,"e":0.3},{"d":3440,"v":6.45,"e":0.3},{"d":3454,"v":7.44,"e":0.35},{"d":3468,"v":7.04,"e":0.35},{"d":3484,"v":6.64,"e":0.3},{"d":3499,"v":7.15,"e":0.35},{"d":3513,"v":7.64,"e":0.35},{"d":3527,"v":7.84,"e":0.35},{"d":3539,"v":6.85,"e":0.3},{"d":3552,"v":7.44,"e":0.35},{"d":3566,"v":7.64,"e":0.35},{"d":3582,"v":7.04,"e":0.3},{"d":3592,"v":6.85,"e":0.3},{"d":3606,"v":6.75,"e":0.3}]
},
"resolve": {"scale": {"y": "independent"}, "axis": {"x": "independent", "y": "independent"}},
"layer": [
{"data": {"name": "bands"}, "mark": {"type": "rect", "color": "#e6e6e6"},
 "encoding": {"x": {"field": "s", "type": "quantitative", "scale": {"domain": [0, 3690]},
   "axis": {"orient": "bottom", "values": [0,200,400,600,800,1000,1200,1400,1600,1800,2000,2200,2400,2600,2800,3000,3200,3400,3600], "format": "d", "title": "Depth in core MD05-2920 (cm)", "titleFontSize": 13, "titlePadding": 3, "titleX": 335, "labelPadding": 1, "labelFontSize": 10.5}},
  "x2": {"field": "e"}}},
{"data": {"name": "mis"}, "resolve": {"axis": {"x": "independent"}},
 "layer": [
  {"mark": {"type": "rect", "stroke": "#666", "strokeWidth": 0.6},
   "encoding": {"x": {"field": "s", "type": "quantitative", "scale": {"domain": [0, 3690]},
     "axis": {"orient": "top", "values": [0,200,400,600,800,1000,1200,1400,1600,1800,2000,2200,2400,2600,2800,3000,3200,3400,3600], "format": "d", "title": null, "labelPadding": 0, "tickSize": 2.5, "labelFontSize": 10}},
    "x2": {"field": "e"},
    "y": {"datum": 0, "type": "quantitative", "scale": {"domain": [0, 1], "range": [7.5, 0], "nice": false, "zero": false}, "axis": null}, "y2": {"datum": 1},
    "fill": {"field": "k", "type": "nominal", "scale": {"domain": ["g", "i"], "range": ["#cfe8f5", "#f8cfaf"]}, "legend": null}}},
  {"mark": {"type": "text", "fontSize": 7, "color": "#333"},
   "encoding": {"x": {"field": "m", "type": "quantitative", "scale": {"domain": [0, 3690]},
     "axis": {"orient": "top", "values": [0,50,100,150,200,250,300,350,400,450,500,550,600,650,700,750,800,850,900,950,1000,1050,1100,1150,1200,1250,1300,1350,1400,1450,1500,1550,1600,1650,1700,1750,1800,1850,1900,1950,2000,2050,2100,2150,2200,2250,2300,2350,2400,2450,2500,2550,2600,2650,2700,2750,2800,2850,2900,2950,3000,3050,3100,3150,3200,3250,3300,3350,3400,3450,3500,3550,3600,3650], "labels": false, "domain": false, "tickSize": 1.5, "title": null}},
    "y": {"datum": 0.5, "type": "quantitative", "scale": {"domain": [0, 1], "range": [7.5, 0], "nice": false, "zero": false}, "axis": null},
    "text": {"field": "n"}}},
  {"data": {"values": [{"m": 3725, "n": "MIS"}]}, "mark": {"type": "text", "fontSize": 12, "fontWeight": "bold", "align": "left"},
   "encoding": {"x": {"field": "m", "type": "quantitative", "scale": {"domain": [0, 3690]}, "axis": null},
    "y": {"datum": 0.5, "type": "quantitative", "scale": {"domain": [0, 1], "range": [7.5, 0], "nice": false, "zero": false}, "axis": null},
    "text": {"field": "n"}}}
 ]},
{"data": {"name": "mis"}, "resolve": {"axis": {"x": "independent"}},
 "layer": [
  {"mark": {"type": "rect", "stroke": "#666", "strokeWidth": 0.6},
   "encoding": {"x": {"field": "s", "type": "quantitative", "scale": {"domain": [0, 3690]}, "axis": null},
    "x2": {"field": "e"},
    "y": {"datum": 0, "type": "quantitative", "scale": {"domain": [0, 1], "range": [488.5, 480.5], "nice": false, "zero": false}, "axis": null}, "y2": {"datum": 1},
    "fill": {"field": "k", "type": "nominal", "scale": {"domain": ["g", "i"], "range": ["#cfe8f5", "#f8cfaf"]}, "legend": null}}},
  {"mark": {"type": "text", "fontSize": 7, "color": "#333"},
   "encoding": {"x": {"field": "m", "type": "quantitative", "scale": {"domain": [0, 3690]},
     "axis": {"orient": "bottom", "values": [0,50,100,150,200,250,300,350,400,450,500,550,600,650,700,750,800,850,900,950,1000,1050,1100,1150,1200,1250,1300,1350,1400,1450,1500,1550,1600,1650,1700,1750,1800,1850,1900,1950,2000,2050,2100,2150,2200,2250,2300,2350,2400,2450,2500,2550,2600,2650,2700,2750,2800,2850,2900,2950,3000,3050,3100,3150,3200,3250,3300,3350,3400,3450,3500,3550,3600,3650], "labels": false, "domain": false, "tickSize": 2, "title": null}},
    "y": {"datum": 0.5, "type": "quantitative", "scale": {"domain": [0, 1], "range": [488.5, 480.5], "nice": false, "zero": false}, "axis": null},
    "text": {"field": "n"}}}
 ]},
{"data": {"values": [{"s": 440, "e": 1850, "v": 1.56}, {"s": 1850, "e": 3620, "v": 1.18}]},
 "mark": {"type": "rule", "color": "#3b9b3b", "strokeDash": [2, 2], "strokeWidth": 1},
 "encoding": {"x": {"field": "s", "type": "quantitative", "scale": {"domain": [0, 3690]}, "axis": null}, "x2": {"field": "e"},
  "y": {"field": "v", "type": "quantitative", "scale": {"domain": [0.5, 2.1], "range": [257.5, 116.5], "nice": false, "zero": false},
   "axis": {"orient": "right", "values": [0.5,0.6,0.7,0.8,0.9,1,1.1,1.2,1.3,1.4,1.5,1.6,1.7,1.8,1.9,2,2.1], "labels": false, "domain": false, "tickSize": 2.5, "title": null}}}},
{"encoding": {"y": {"field": "v", "type": "quantitative", "scale": {"domain": [3.5, 12], "range": [475.9, 333.5], "nice": false, "zero": false},
   "axis": {"orient": "right", "values": [4,5,6,7,8,9,10,11,12], "labelExpr": "datum.value % 2 === 0 ? datum.label : ''", "title": "Authigenic ¹⁰Be/⁹Be ratio (x 10⁻⁹)", "titleAngle": 270, "titleBaseline": "middle", "titleAlign": "center", "titleX": 31, "titleY": 371}}},
 "layer": [
  {"data": {"values": [{"s": 364, "e": 3690, "v": 7.9}, {"s": 364, "e": 3690, "v": 5.2}]},
   "mark": {"type": "rule", "color": "#222", "strokeDash": [2, 2], "strokeWidth": 0.8},
   "encoding": {"x": {"field": "s", "type": "quantitative", "scale": {"domain": [0, 3690]}, "axis": null}, "x2": {"field": "e"}}},
  {"data": {"values": [{"s": 364, "v": 5.2, "h": 7.9}]},
   "mark": {"type": "rule", "color": "#222", "strokeWidth": 0.8},
   "encoding": {"x": {"field": "s", "type": "quantitative", "scale": {"domain": [0, 3690]}, "axis": null}, "y2": {"field": "h"}}},
  {"data": {"values": [{"s": 364, "v": 6.55}]},
   "mark": {"type": "point", "shape": "circle", "size": 14, "stroke": "#222", "fill": "white", "filled": false, "strokeWidth": 0.8},
   "encoding": {"x": {"field": "s", "type": "quantitative", "scale": {"domain": [0, 3690]}, "axis": null}}},
  {"data": {"values": [{"s": 318, "v": 6.55, "t": "Mean ±1σ"}]},
   "mark": {"type": "text", "fontSize": 10, "angle": 270},
   "encoding": {"x": {"field": "s", "type": "quantitative", "scale": {"domain": [0, 3690]}, "axis": null}, "text": {"field": "t"}}},
  {"data": {"values": [{"s": 766, "v": 12.1, "t": "II"}, {"s": 1014, "v": 9.55, "t": "III"}, {"s": 1303, "v": 9.43, "t": "IVa"}, {"s": 1500, "v": 8.96, "t": "IVb"}, {"s": 2000, "v": 12.1, "t": "V"}, {"s": 2210, "v": 9.6, "t": "VI"}, {"s": 2509, "v": 10.67, "t": "VII"}, {"s": 2775, "v": 10.27, "t": "VIII"}, {"s": 2956, "v": 9.03, "t": "IX"}, {"s": 3513, "v": 8.54, "t": "X"}]},
   "mark": {"type": "text", "fontSize": 11, "color": "#d23a2e"},
   "encoding": {"x": {"field": "s", "type": "quantitative", "scale": {"domain": [0, 3690]}, "axis": null}, "text": {"field": "t"}}}
 ]},
{"data": {"name": "A"},
 "encoding": {"x": {"field": "d", "type": "quantitative", "scale": {"domain": [0, 3690]}, "axis": null},
  "y": {"field": "v", "type": "quantitative", "scale": {"domain": [2.5, 5], "range": [0, 121.5], "nice": false, "zero": false},
   "axis": {"orient": "left", "values": [2.5, 3, 3.5, 4, 4.5, 5], "format": ".1~f", "title": "Bentic δ¹⁸O (‰ vs VPDB)"}}},
 "layer": [
  {"mark": {"type": "line", "color": "#111", "strokeWidth": 0.8}},
  {"mark": {"type": "point", "shape": "circle", "size": 13, "stroke": "#111", "fill": "white", "filled": false, "strokeWidth": 0.8, "opacity": 1}},
  {"data": {"values": [{"d": 75, "v": 2.88, "t": "(A)"}]}, "mark": {"type": "text", "fontSize": 13, "fontWeight": "bold"}, "encoding": {"text": {"field": "t"}}}
 ]},
{"data": {"name": "B"},
 "encoding": {"x": {"field": "d", "type": "quantitative", "scale": {"domain": [0, 3690]}, "axis": null},
  "y": {"field": "v", "type": "quantitative", "scale": {"domain": [0.5, 2.1], "range": [257.5, 116.5], "nice": false, "zero": false},
   "axis": {"orient": "right", "values": [0.5, 1, 1.5, 2], "format": ".1~f", "title": "Authigenic ⁹Be  (x 10¹⁶ at/g)", "titleAngle": 270, "titleBaseline": "middle", "titleAlign": "center", "titleX": 33}}},
 "layer": [
  {"mark": {"type": "errorbar", "ticks": true, "color": "#333", "thickness": 0.6}, "encoding": {"yError": {"field": "e"}}},
  {"mark": {"type": "line", "color": "#111", "strokeWidth": 0.8}},
  {"mark": {"type": "circle", "size": 10, "stroke": "#111", "strokeWidth": 0.6, "opacity": 1},
   "encoding": {"fill": {"condition": {"test": "datum.o === 1", "value": "white"}, "value": "#111"}}},
  {"data": {"values": [{"d": 78, "v": 1.71, "t": "(B)"}]}, "mark": {"type": "text", "fontSize": 13, "fontWeight": "bold"}, "encoding": {"text": {"field": "t"}}}
 ]},
{"data": {"name": "C"},
 "encoding": {"x": {"field": "d", "type": "quantitative", "scale": {"domain": [0, 3690]}, "axis": null},
  "y": {"field": "v", "type": "quantitative", "scale": {"domain": [2, 16], "range": [363.8, 213.2], "nice": false, "zero": false},
   "axis": {"orient": "left", "values": [2, 4, 6, 8, 10, 12, 14, 16], "title": "Authigenic¹⁰Be (x 10⁸ at/g)"}}},
 "layer": [
  {"mark": {"type": "errorbar", "ticks": true, "color": "#333", "thickness": 0.6}, "encoding": {"yError": {"field": "e"}}},
  {"mark": {"type": "line", "color": "#111", "strokeWidth": 0.8}},
  {"mark": {"type": "circle", "size": 10, "stroke": "#111", "strokeWidth": 0.6, "opacity": 1},
   "encoding": {"fill": {"condition": {"test": "datum.o === 1", "value": "white"}, "value": "#111"}}},
  {"data": {"values": [{"d": 72, "v": 14.92, "t": "(C)"}]}, "mark": {"type": "text", "fontSize": 13, "fontWeight": "bold"}, "encoding": {"text": {"field": "t"}}}
 ]},
{"data": {"name": "D"},
 "encoding": {"x": {"field": "d", "type": "quantitative", "scale": {"domain": [0, 3690]}, "axis": null},
  "y": {"field": "v", "type": "quantitative", "scale": {"domain": [3.5, 12], "range": [475.9, 333.5], "nice": false, "zero": false}, "axis": null}},
 "layer": [
  {"mark": {"type": "errorbar", "ticks": true, "color": "#333", "thickness": 0.6}, "encoding": {"yError": {"field": "e"}}},
  {"mark": {"type": "line", "color": "#111", "strokeWidth": 0.8}},
  {"mark": {"type": "circle", "size": 10, "stroke": "#111", "strokeWidth": 0.6, "opacity": 1},
   "encoding": {"fill": {"condition": {"test": "datum.o === 1", "value": "white"}, "value": "#111"}}},
  {"data": {"values": [{"d": 75, "v": 7.28, "t": "(D)"}]}, "mark": {"type": "text", "fontSize": 13, "fontWeight": "bold"}, "encoding": {"text": {"field": "t"}}}
 ]},
{"encoding": {"x": {"field": "d", "type": "quantitative", "scale": {"domain": [0, 3690]}, "axis": null},
  "y": {"field": "v", "type": "quantitative", "scale": {"domain": [0.5, 2.1], "range": [257.5, 116.5], "nice": false, "zero": false}, "axis": null}},
 "layer": [
  {"data": {"values": [{"d": 1108, "v": 0.97, "to": -0.65}, {"d": 1393, "v": 0.6, "to": -1.42}, {"d": 2063, "v": 0.62, "to": -1.23}, {"d": 3106, "v": 0.49, "to": -0.97}]},
   "mark": {"type": "rule", "color": "#333", "strokeDash": [2, 2], "strokeWidth": 0.8}, "encoding": {"y2": {"field": "to"}}},
  {"data": {"values": [{"d": 1108, "v": 0.97}, {"d": 1393, "v": 0.6}, {"d": 2063, "v": 0.62}, {"d": 3106, "v": 0.49}]},
   "mark": {"type": "point", "shape": "M0,-1L0.235,-0.324L0.951,-0.309L0.38,0.124L0.588,0.809L0,0.4L-0.588,0.809L-0.38,0.124L-0.951,-0.309L-0.235,-0.324Z", "size": 110, "filled": true, "fill": "#c8412f", "stroke": "#7a2418", "strokeWidth": 0.6, "opacity": 1}},
  {"data": {"values": [{"d": 1909, "v": 1.36, "h": 1.5}]},
   "mark": {"type": "rule", "color": "#3d9b35", "strokeWidth": 2.5}, "encoding": {"y2": {"field": "h"}}},
  {"data": {"values": [{"d": 1909, "v": 1.525}]},
   "mark": {"type": "point", "shape": "triangle-up", "size": 70, "filled": true, "color": "#3d9b35", "opacity": 1}}
 ]}
]
}
